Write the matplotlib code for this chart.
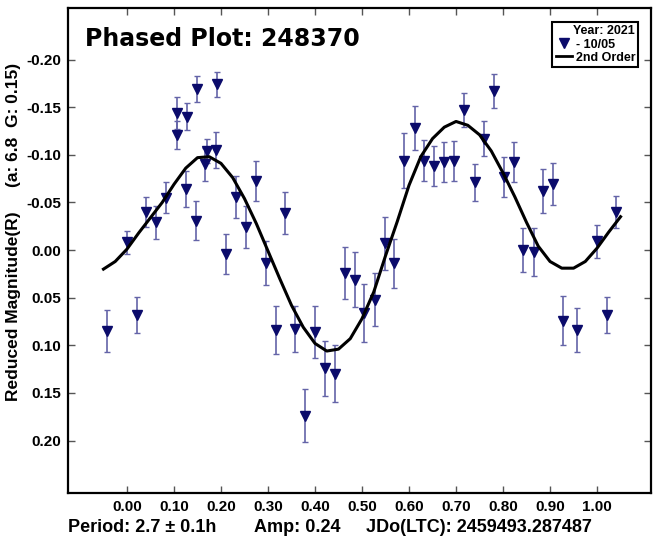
import matplotlib
matplotlib.use("Agg")
import matplotlib.pyplot as plt
from matplotlib.lines import Line2D

plt.rcParams['font.family'] = ['Liberation Sans', 'DejaVu Sans']

# observations: phase, reduced magnitude, error
phase = [-0.043, -0.001, 0.021, 0.040, 0.062, 0.083, 0.106, 0.106, 0.128, 0.126,
         0.148, 0.147, 0.170, 0.167, 0.191, 0.189, 0.210, 0.231, 0.253, 0.274,
         0.296, 0.316, 0.337, 0.358, 0.379, 0.401, 0.422, 0.443, 0.464, 0.485,
         0.505, 0.528, 0.549, 0.569, 0.590, 0.612, 0.632, 0.653, 0.674, 0.696,
         0.717, 0.740, 0.760, 0.781, 0.802, 0.823, 0.843, 0.865, 0.886, 0.906,
         0.927, 0.957, 0.999, 1.021, 1.040]
mag = [0.085, -0.008, 0.068, -0.040, -0.029, -0.055, -0.144, -0.121, -0.140, -0.064,
       -0.169, -0.031, -0.104, -0.090, -0.174, -0.105, 0.004, -0.056, -0.024, -0.072,
       0.014, 0.084, -0.039, 0.083, 0.174, 0.086, 0.124, 0.130, 0.024, 0.031,
       0.066, 0.052, -0.007, 0.014, -0.094, -0.128, -0.094, -0.088, -0.092, -0.094,
       -0.147, -0.071, -0.117, -0.167, -0.077, -0.092, 0.000, 0.002, -0.062, -0.069,
       0.074, 0.084, -0.009, 0.068, -0.040]
err = [0.022, 0.012, 0.019, 0.016, 0.017, 0.016, 0.017, 0.015, 0.014, 0.019,
       0.014, 0.020, 0.013, 0.017, 0.013, 0.019, 0.021, 0.022, 0.022, 0.021,
       0.023, 0.025, 0.022, 0.024, 0.028, 0.027, 0.029, 0.030, 0.027, 0.029,
       0.030, 0.028, 0.028, 0.026, 0.029, 0.023, 0.022, 0.021, 0.021, 0.021,
       0.018, 0.019, 0.018, 0.018, 0.021, 0.021, 0.023, 0.025, 0.023, 0.022,
       0.026, 0.023, 0.017, 0.019, 0.017]

# 2nd order fit curve
fit_phase = [-0.05, -0.025, 0.0, 0.025, 0.05, 0.075, 0.1, 0.125, 0.15, 0.175,
             0.2, 0.225, 0.25, 0.275, 0.3, 0.325, 0.35, 0.375, 0.4, 0.425,
             0.45, 0.475, 0.5, 0.525, 0.55, 0.575, 0.6, 0.625, 0.65, 0.675,
             0.7, 0.725, 0.75, 0.775, 0.8, 0.825, 0.85, 0.875, 0.9, 0.925,
             0.95, 0.975, 1.0, 1.025, 1.05]
fit_mag = [0.020, 0.012, -0.001, -0.018, -0.034, -0.050, -0.069, -0.086, -0.097, -0.098,
           -0.091, -0.076, -0.054, -0.028, 0.001, 0.030, 0.058, 0.081, 0.098, 0.106,
           0.104, 0.093, 0.072, 0.044, 0.006, -0.030, -0.068, -0.098, -0.117, -0.129,
           -0.135, -0.131, -0.121, -0.104, -0.081, -0.056, -0.029, -0.004, 0.012, 0.019,
           0.019, 0.012, -0.002, -0.019, -0.035]

xticks = [0.0, 0.1, 0.2, 0.3, 0.4, 0.5, 0.6, 0.7, 0.8, 0.9, 1.0]
yticks = [-0.20, -0.15, -0.10, -0.05, 0.0, 0.05, 0.10, 0.15, 0.20]

fig = plt.figure(figsize=(6.53, 5.4), dpi=100)
ax = fig.add_axes([0.1041, 0.0876, 0.893, 0.8974])

ax.errorbar(phase, mag, yerr=err, fmt='none', ecolor='#6464a8', elinewidth=1.2,
            capsize=2.5, capthick=1.0, zorder=2)
ax.plot(phase, mag, 'v', color='#0b0b6b', markersize=7, zorder=3)
ax.plot(fit_phase, fit_mag, color='black', linewidth=2.2, zorder=4)

ax.set_xlim(-0.1255, 1.115)
ax.set_ylim(0.2547, -0.254)
ax.set_xticks(xticks)
ax.set_xticklabels([f"{v:.2f}" for v in xticks])
ax.set_yticks(yticks)
ax.set_yticklabels([f"{v:.2f}" for v in yticks])
ax.tick_params(direction='in', length=5, width=1, color='#555555',
               top=True, right=True, labelsize=11, pad=5)
for lab in ax.get_xticklabels() + ax.get_yticklabels():
    lab.set_fontweight('bold')
for sp in ax.spines.values():
    sp.set_linewidth(1.6)

ax.set_ylabel("Reduced Magnitude(R)     (a: 6.8  G: 0.15)", fontsize=12.5,
              fontweight='bold')
ax.yaxis.set_label_coords(-0.081, 0.538)

ax.text(0.029, 0.937, "Phased Plot: 248370", transform=ax.transAxes,
        fontsize=17, fontweight='bold', family='DejaVu Sans',
        va='center', ha='left')

handles = [Line2D([], [], marker='v', color='#0b0b6b', linestyle='none', markersize=7),
           Line2D([], [], color='black', linewidth=2)]
leg = ax.legend(handles, ["- 10/05", "2nd Order"], title="Year: 2021",
                loc='upper right', bbox_to_anchor=(0.978, 0.971),
                fancybox=False, framealpha=1, edgecolor='black',
                prop={'weight': 'bold', 'size': 9},
                title_fontproperties={'weight': 'bold', 'size': 9},
                handlelength=1.3, handletextpad=0.3, borderpad=0.25,
                labelspacing=0.1, borderaxespad=0)
leg._legend_box.align = 'right'
leg.get_frame().set_linewidth(1.5)

fig.text(68 / 653, 1 - 527 / 540, "Period: 2.7 \u00b1 0.1h", fontsize=13,
         fontweight='bold', va='center', ha='left')
fig.text(254 / 653, 1 - 527 / 540, "Amp: 0.24", fontsize=13,
         fontweight='bold', va='center', ha='left')
fig.text(366 / 653, 1 - 527 / 540, "JDo(LTC): 2459493.287487", fontsize=13,
         fontweight='bold', va='center', ha='left')

fig.savefig("out.png", dpi=100)
